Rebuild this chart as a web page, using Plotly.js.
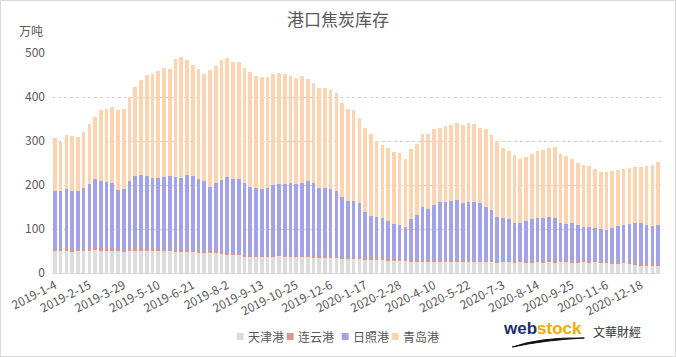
<!DOCTYPE html>
<html>
<head>
<meta charset="utf-8">
<script src="https://cdn.plot.ly/plotly-3.0.1.min.js"></script>
<style>
html,body{margin:0;padding:0;background:#fff;}
#chart{width:676px;height:357px;box-sizing:border-box;border:1px solid #d9d9d9;}
</style>
</head>
<body>
<div id="chart"></div>
<script>
const dates = ["2019-1-4","2019-1-11","2019-1-18","2019-1-25","2019-2-1","2019-2-8","2019-2-15","2019-2-22","2019-3-1","2019-3-8","2019-3-15","2019-3-22","2019-3-29","2019-4-5","2019-4-12","2019-4-19","2019-4-26","2019-5-3","2019-5-10","2019-5-17","2019-5-24","2019-5-31","2019-6-7","2019-6-14","2019-6-21","2019-6-28","2019-7-5","2019-7-12","2019-7-19","2019-7-26","2019-8-2","2019-8-9","2019-8-16","2019-8-23","2019-8-30","2019-9-6","2019-9-13","2019-9-20","2019-9-27","2019-10-4","2019-10-11","2019-10-18","2019-10-25","2019-11-1","2019-11-8","2019-11-15","2019-11-22","2019-11-29","2019-12-6","2019-12-13","2019-12-20","2019-12-27",
"2020-1-3","2020-1-10","2020-1-17","2020-1-24","2020-1-31","2020-2-7","2020-2-14","2020-2-21","2020-2-28","2020-3-6","2020-3-13","2020-3-20","2020-3-27","2020-4-3","2020-4-10","2020-4-17","2020-4-24","2020-5-1","2020-5-8","2020-5-15","2020-5-22","2020-5-29","2020-6-5","2020-6-12","2020-6-19","2020-6-26","2020-7-3","2020-7-10","2020-7-17","2020-7-24","2020-7-31","2020-8-7","2020-8-14","2020-8-21","2020-8-28","2020-9-4","2020-9-11","2020-9-18","2020-9-25","2020-10-2","2020-10-9","2020-10-16","2020-10-23","2020-10-30","2020-11-6","2020-11-13","2020-11-20","2020-11-27","2020-12-4","2020-12-11","2020-12-18","2020-12-25","2021-1-1","2021-1-8"];

const tickLabels = ["2019-1-4","2019-2-15","2019-3-29","2019-5-10","2019-6-21","2019-8-2","2019-9-13","2019-10-25","2019-12-6","2020-1-17","2020-2-28","2020-4-10","2020-5-22","2020-7-3","2020-8-14","2020-9-25","2020-11-6","2020-12-18"];

const seriesNames = ["天津港","连云港","日照港","青岛港"];

const tianjin = [50,49,51,48,49,50,51,52,51,50,51,
 49,48,50,51,50,51,50,49,50,49,
 48,48,47,47,46,45,46,45,44,42,
 41,40,37,36,36,37,36,37,38,37,
 37,36,37,36,35,35,34,33,33,32,
 32,31,31,30,30,29,29,28,28,27,
 27,26,26,25,26,25,25,24,25,25,
 24,25,24,25,24,24,23,24,24,23,
 24,23,23,24,23,24,23,24,24,23,
 23,24,23,24,23,22,21,21,22,20,
 18,17,17,16,17];

const lianyun = [5,5,6,5,6,5,5,6,5,6,5,6,5,6,5,6,6,5,
 6,5,6,5,6,6,5,6,5,6,5,6,5,5,6,5,5,
 5,4,5,5,4,5,5,4,5,4,5,5,4,5,4,5,4,
 5,4,5,4,5,5,4,5,4,5,4,4,5,4,5,4,4,5,
 4,5,4,4,5,4,4,5,4,4,5,4,4,5,4,4,5,
 4,4,5,4,4,5,4,4,5,4,4,5,4,5,6,5,6,5,4];

const rizhao = [132,132,134,134,132,139,146,156,154,150,
 148,134,137,152,164,167,164,162,162,164,
 165,165,163,170,168,162,159,144,155,161,
 172,168,168,163,155,153,150,153,158,160,
 160,162,162,163,168,164,154,156,152,150,
 136,128,128,123,104,96,93,91,86,78,
 78,72,93,102,119,115,125,132,134,134,
 137,131,133,134,128,121,115,100,96,94,
 86,85,91,95,96,97,98,99,86,82,
 87,82,76,78,75,72,72,78,81,82,
 86,90,92,85,86,88];

const qingdao = [119,112,123,124,122,126,136,141,160,167,
 173,182,183,191,203,216,228,235,241,248,
 244,268,273,260,253,250,243,265,266,272,
 269,265,265,260,261,254,255,251,252,252,
 250,244,241,243,233,227,227,226,226,221,
 213,209,206,195,191,185,173,166,167,163,
 163,155,159,161,168,172,172,168,172,173,
 176,176,178,177,171,178,171,171,159,155,
 154,146,146,147,153,156,158,161,156,155,
 145,142,140,138,133,130,132,129,127,128,
 127,126,126,136,138,144];

const colors = ["#DCDCDC","#DA9694","#A3A3EA","#FCD5B0"];
const values = [tianjin, lianyun, rizhao, qingdao];

const traces = values.map((v, i) => ({
  type: "bar",
  name: seriesNames[i],
  x: dates,
  y: v,
  marker: {color: colors[i], line: {width: 0}},
  showlegend: false,
  hoverinfo: "x+y+name"
}));

const font = '"Noto Sans CJK SC", "Microsoft YaHei", sans-serif';
const txt = "#595959";

// plot area in container coords (674x355 inside 1px border)
const L = 51, R = 659.6, T = 52, B = 272;
const px = X => (X - 1 - L) / (R - L);
const py = Y => (B - (Y - 1)) / (B - T);

const legendX = [240, 290, 345, 395];
const shapes = [];
const annotations = [];
legendX.forEach((cx, i) => {
  shapes.push({type: "rect", xref: "paper", yref: "paper",
    x0: px(cx - 3.5), x1: px(cx + 3.5), y0: py(340), y1: py(333),
    fillcolor: colors[i], line: {width: 0}});
  annotations.push({xref: "paper", yref: "paper", x: px(cx + 6), y: py(336.5),
    xanchor: "left", yanchor: "middle", showarrow: false,
    text: seriesNames[i], font: {family: font, size: 12, color: txt}});
});

annotations.push({xref: "paper", yref: "paper", x: px(31), y: py(30),
  xanchor: "center", yanchor: "middle", showarrow: false,
  text: "万吨", font: {family: font, size: 12, color: txt}});

annotations.push({xref: "paper", yref: "paper", x: px(542), y: py(328),
  xanchor: "center", yanchor: "middle", showarrow: false,
  text: "<b><span style='color:#1c2f6b'>web</span><span style='color:#f2a900'>stock</span></b>",
  font: {family: "Arial, 'Liberation Sans', sans-serif", size: 17, color: "#1c2f6b"}});
annotations.push({xref: "paper", yref: "paper", x: px(617), y: py(331),
  xanchor: "center", yanchor: "middle", showarrow: false,
  text: "文華財經", font: {family: '"Noto Sans CJK TC", sans-serif', size: 12, color: "#333333"}});
shapes.push({type: "path", xref: "paper", yref: "paper",
  path: `M ${px(512)},${py(347)} Q ${px(540)},${py(337)} ${px(584)},${py(338)} Q ${px(545)},${py(340)} ${px(512)},${py(347)} Z`,
  fillcolor: "#111", line: {color: "#111", width: 1}});

const layout = {
  width: 674, height: 355,
  margin: {l: L, r: 674 - R, t: T, b: 355 - B, pad: 0},
  paper_bgcolor: "#fff", plot_bgcolor: "#fff",
  font: {family: font, color: txt, size: 12},
  title: {text: "港口焦炭库存", font: {family: font, size: 17, color: txt},
    x: 0.5, xref: "container", xanchor: "center", y: 1 - 19 / 355, yref: "container", yanchor: "middle"},
  barmode: "stack",
  bargap: 0.36,
  xaxis: {type: "category", categoryorder: "array", categoryarray: dates,
    tickmode: "array", tickvals: tickLabels, ticktext: tickLabels,
    tickangle: -27, tickfont: {family: font, size: 12, color: txt},
    showgrid: false, showline: true, linecolor: "#d9d9d9", linewidth: 1,
    ticks: "", zeroline: false, automargin: false},
  yaxis: {range: [0, 500], dtick: 100, tick0: 0, showgrid: true,
    gridcolor: "#d0d0d0", griddash: "dot", gridwidth: 1,
    zeroline: false, showline: false, ticks: "", ticklabelstandoff: 6,
    tickfont: {family: font, size: 12, color: txt}, automargin: false},
  showlegend: false,
  shapes: shapes,
  annotations: annotations
};

Plotly.newPlot("chart", traces, layout, {displayModeBar: false, staticPlot: true});
</script>
</body>
</html>
